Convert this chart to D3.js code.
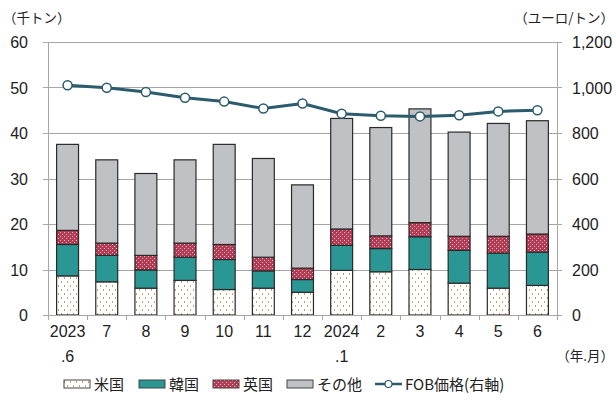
<!DOCTYPE html>
<html>
<head>
<meta charset="utf-8">
<script src="https://cdn.jsdelivr.net/npm/d3@7"></script>
<style>
  body { margin: 0; background: #fff; }
  text { font-family: "Liberation Sans", Arial, sans-serif; fill: #222; }
  .jp { font-family: "Noto Sans CJK JP", sans-serif; }
</style>
</head>
<body>
<div id="chart"></div>
<script>
// 月ラベル（2行）
var months = ["2023.6", "7", "8", "9", "10", "11", "12", "2024.1", "2", "3", "4", "5", "6"];
var labels1 = ["2023", "7", "8", "9", "10", "11", "12", "2024", "2", "3", "4", "5", "6"];
var labels2 = [".6", "", "", "", "", "", "", ".1", "", "", "", "", ""];

// 千トン
var usa   = [8.6, 7.3, 5.9, 7.6, 5.6, 5.9, 5.0, 9.8, 9.5, 10.0, 7.0, 5.9, 6.5];
var korea = [6.9, 5.8, 4.0, 5.1, 6.6, 3.8, 2.8, 5.5, 5.1, 7.2, 7.2, 7.7, 7.3];
var uk    = [3.1, 2.7, 3.2, 3.1, 3.3, 3.0, 2.5, 3.6, 2.8, 3.1, 3.1, 3.7, 4.0];
var other = [18.9, 18.3, 18.0, 18.3, 22.0, 21.7, 18.3, 24.3, 23.8, 25.0, 22.9, 24.8, 24.9];
// ユーロ/トン
var fob   = [1010, 999, 980, 955, 938, 908, 930, 885, 876, 873, 878, 895, 900];

var leftTicks = [0, 10, 20, 30, 40, 50, 60];
var rightTicks = [0, 200, 400, 600, 800, 1000, 1200];

var W = 616, H = 403;
var plot = {left: 48, right: 557, top: 42, bottom: 315};

var svg = d3.select("#chart").append("svg")
  .attr("width", W)
  .attr("height", H);

var defs = svg.append("defs");

// 米国: 白地に茶色の点
var pUs = defs.append("pattern")
  .attr("id", "pat_us")
  .attr("patternUnits", "userSpaceOnUse")
  .attr("width", 6).attr("height", 8);
pUs.append("rect").attr("width", 6).attr("height", 8).attr("fill", "#fff");
pUs.append("rect").attr("x", 1).attr("y", 1).attr("width", 1).attr("height", 2).attr("fill", "#c9a26e");
pUs.append("rect").attr("x", 4).attr("y", 5).attr("width", 1).attr("height", 2).attr("fill", "#c9a26e");

// 英国: 赤地に白の格子
var pUk = defs.append("pattern")
  .attr("id", "pat_uk")
  .attr("patternUnits", "userSpaceOnUse")
  .attr("width", 4).attr("height", 4);
pUk.append("rect").attr("width", 4).attr("height", 4).attr("fill", "#b33a52");
pUk.append("rect").attr("x", 0).attr("y", 0).attr("width", 1).attr("height", 1).attr("fill", "#f0c4cc");
pUk.append("rect").attr("x", 2).attr("y", 2).attr("width", 1).attr("height", 1).attr("fill", "#f0c4cc");

var series = [
  {key: "米国", values: usa, fill: "url(#pat_us)"},
  {key: "韓国", values: korea, fill: "#2a9794"},
  {key: "英国", values: uk, fill: "url(#pat_uk)"},
  {key: "その他", values: other, fill: "#c0c1c5"}
];

var x = d3.scaleBand().domain(months).range([plot.left, plot.right]).paddingInner(0.44).paddingOuter(0.22);
var xb = d3.scaleBand().domain(months).range([plot.left, plot.right]);
var y = d3.scaleLinear().domain([0, 60]).range([plot.bottom, plot.top]);
var y2 = d3.scaleLinear().domain([0, 1200]).range([plot.bottom, plot.top]);

// grid lines
svg.append("g")
  .selectAll("line")
  .data(leftTicks.slice(1))
  .enter()
  .append("line")
  .attr("x1", plot.left).attr("x2", plot.right)
  .attr("y1", d => Math.round(y(d)) + 0.5)
  .attr("y2", d => Math.round(y(d)) + 0.5)
  .style("stroke", "#a6a6a6")
  .style("stroke-width", 1);

// stacked bars
var stackData = months.map(function(m, i) {
  var o = {month: m};
  series.forEach(s => o[s.key] = s.values[i]);
  return o;
});
var stacked = d3.stack().keys(series.map(s => s.key))(stackData);

svg.append("g")
  .selectAll("g")
  .data(stacked)
  .enter()
  .append("g")
  .attr("fill", (d, i) => series[i].fill)
  .selectAll("rect")
  .data(d => d)
  .enter()
  .append("rect")
  .attr("x", d => x(d.data.month))
  .attr("width", x.bandwidth())
  .attr("y", d => y(d[1]))
  .attr("height", d => y(d[0]) - y(d[1]))
  .style("stroke", "#2a2a2a")
  .style("stroke-width", 1.2);

// axes lines
svg.append("line")
  .attr("x1", plot.left + 0.5).attr("x2", plot.left + 0.5)
  .attr("y1", plot.top).attr("y2", plot.bottom + 5)
  .style("stroke", "#a6a6a6");
svg.append("line")
  .attr("x1", plot.right + 0.5).attr("x2", plot.right + 0.5)
  .attr("y1", plot.top).attr("y2", plot.bottom + 5)
  .style("stroke", "#a6a6a6");
svg.append("line")
  .attr("x1", plot.left - 5).attr("x2", plot.right + 5)
  .attr("y1", plot.bottom + 0.5).attr("y2", plot.bottom + 0.5)
  .style("stroke", "#a6a6a6");

// left ticks
svg.append("g")
  .selectAll("line")
  .data(leftTicks)
  .enter()
  .append("line")
  .attr("x1", plot.left - 5).attr("x2", plot.left)
  .attr("y1", d => Math.round(y(d)) + 0.5)
  .attr("y2", d => Math.round(y(d)) + 0.5)
  .style("stroke", "#a6a6a6");
// right ticks
svg.append("g")
  .selectAll("line")
  .data(rightTicks)
  .enter()
  .append("line")
  .attr("x1", plot.right).attr("x2", plot.right + 5)
  .attr("y1", d => Math.round(y2(d)) + 0.5)
  .attr("y2", d => Math.round(y2(d)) + 0.5)
  .style("stroke", "#a6a6a6");
// x ticks at band edges
svg.append("g")
  .selectAll("line")
  .data(months.concat(["end"]))
  .enter()
  .append("line")
  .attr("x1", (d, i) => Math.round(plot.left + i * xb.step()) + 0.5)
  .attr("x2", (d, i) => Math.round(plot.left + i * xb.step()) + 0.5)
  .attr("y1", plot.bottom).attr("y2", plot.bottom + 5)
  .style("stroke", "#a6a6a6");

// tick labels
svg.append("g")
  .selectAll("text")
  .data(leftTicks)
  .enter()
  .append("text")
  .attr("x", 28)
  .attr("y", d => y(d) + 6)
  .attr("text-anchor", "end")
  .attr("font-size", "16px")
  .text(d => d);

svg.append("g")
  .selectAll("text")
  .data(rightTicks)
  .enter()
  .append("text")
  .attr("x", 572)
  .attr("y", d => y2(d) + 6)
  .attr("font-size", "16px")
  .text(d => d3.format(",")(d));

svg.append("g")
  .selectAll("text")
  .data(months)
  .enter()
  .append("text")
  .attr("x", d => xb(d) + xb.bandwidth() / 2)
  .attr("y", 337)
  .attr("text-anchor", "middle")
  .attr("font-size", "16px")
  .text((d, i) => labels1[i]);

svg.append("g")
  .selectAll("text")
  .data(months)
  .enter()
  .append("text")
  .attr("x", d => xb(d) + xb.bandwidth() / 2)
  .attr("y", 362)
  .attr("text-anchor", "middle")
  .attr("font-size", "16px")
  .text((d, i) => labels2[i]);

// unit labels
svg.append("text").attr("class", "jp")
  .attr("x", 3).attr("y", 23)
  .attr("font-size", "13.5px")
  .text("（千トン）");
svg.append("text").attr("class", "jp")
  .attr("x", 614).attr("y", 23)
  .attr("text-anchor", "end")
  .attr("font-size", "13.5px")
  .text("（ユーロ/トン）");
svg.append("text").attr("class", "jp")
  .attr("x", 614).attr("y", 361)
  .attr("text-anchor", "end")
  .attr("font-size", "13.5px")
  .text("（年.月）");

// FOB price line
var line = d3.line()
  .x(d => xb(d.m) + xb.bandwidth() / 2)
  .y(d => y2(d.v));
var fobData = months.map((m, i) => ({m: m, v: fob[i]}));

svg.append("path")
  .datum(fobData)
  .attr("d", line)
  .attr("fill", "none")
  .style("stroke", "#2b5b6d")
  .style("stroke-width", 3);

svg.append("g")
  .selectAll("circle")
  .data(fobData)
  .enter()
  .append("circle")
  .attr("cx", d => xb(d.m) + xb.bandwidth() / 2)
  .attr("cy", d => y2(d.v))
  .attr("r", 4.5)
  .attr("fill", "#fff")
  .style("stroke", "#2b5b6d")
  .style("stroke-width", 1.5);

// legend
var legendY = 384;
var legendItems = [
  {label: "米国", x: 64, fill: "url(#pat_us)", type: "rect"},
  {label: "韓国", x: 139, fill: "#2a9794", type: "rect"},
  {label: "英国", x: 213, fill: "url(#pat_uk)", type: "rect"},
  {label: "その他", x: 287, fill: "#c0c1c5", type: "rect"},
  {label: "FOB価格(右軸)", x: 375, fill: "none", type: "line"}
];
var lg = svg.append("g");
legendItems.forEach(function(it) {
  if (it.type == "rect") {
    lg.append("rect")
      .attr("x", it.x).attr("y", legendY - 4)
      .attr("width", 26).attr("height", 8)
      .attr("fill", it.fill)
      .style("stroke", "#444").style("stroke-width", 1);
  } else {
    lg.append("line")
      .attr("x1", it.x).attr("x2", it.x + 27)
      .attr("y1", legendY).attr("y2", legendY)
      .style("stroke", "#2b5b6d").style("stroke-width", 2.5);
    lg.append("circle")
      .attr("cx", it.x + 13.5).attr("cy", legendY).attr("r", 3.5)
      .attr("fill", "#fff")
      .style("stroke", "#2b5b6d").style("stroke-width", 1.2);
  }
  lg.append("text").attr("class", "jp")
    .attr("x", it.x + 30).attr("y", legendY + 5.5)
    .attr("font-size", "15px")
    .text(it.label);
});
</script>
</body>
</html>
